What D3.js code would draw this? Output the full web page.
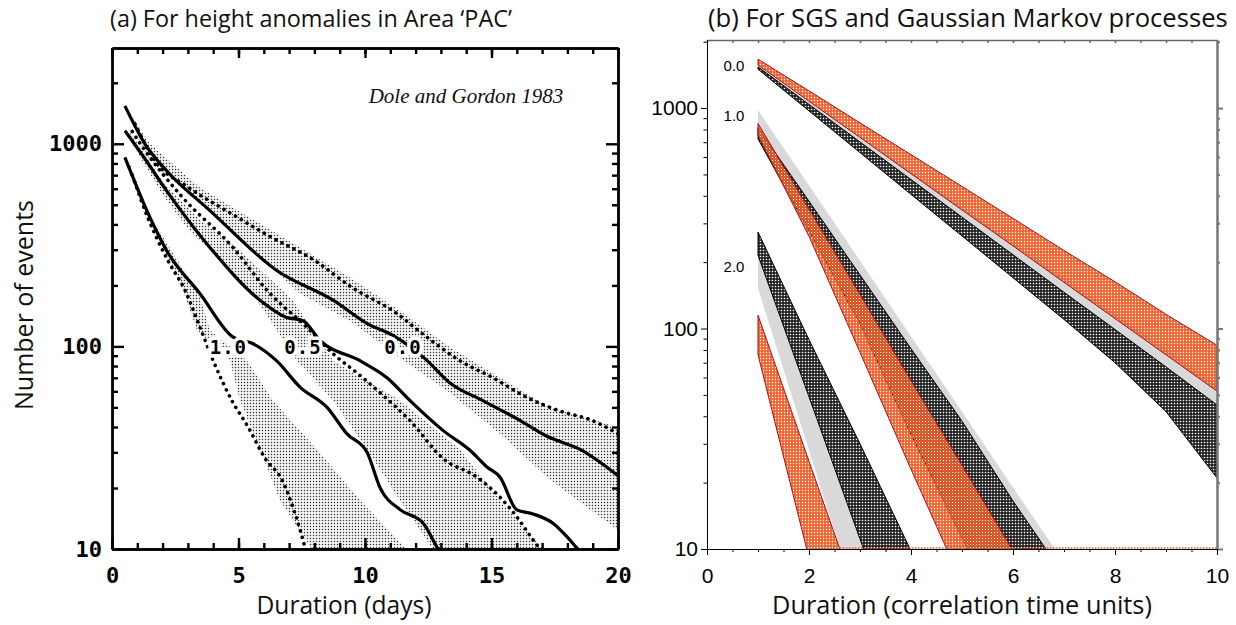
<!DOCTYPE html>
<html>
<head>
<meta charset="utf-8">
<title>Number of events against duration</title>
<script src="https://cdn.jsdelivr.net/npm/d3@7"></script>
<style>
  body { margin: 0; background: #fff; }
  .cal { font-family: "Open Sans", sans-serif; fill: #111; }
</style>
</head>
<body>
<svg id="fig" width="1236" height="625"></svg>
<script>
// ---------- panel (a): Dole and Gordon 1983, [duration (days), number of events] ----------
const solid00 = [[0.51,1538],[1.3,1000],[2.16,736],[3.87,468],[6.51,237],[8.74,169],[10.07,130],[11.12,113],[12.37,87],[13.36,66],[14.66,54],[16.0,44],[17.19,36],[18.5,31],[20.0,23]];
const solid05 = [[0.51,1160],[1.2,880],[2.16,586],[3.87,308],[5.85,169],[6.9,139],[7.55,134],[8.22,107],[9.8,85],[10.87,70],[11.78,54],[13.08,38.5],[14.15,30.7],[14.82,25.4],[15.34,22.6],[16.0,15.6],[16.64,14.9],[17.43,13.4],[17.98,11.5],[18.38,10.1],[18.6,9.5]];
const solid10 = [[0.51,857],[1.5,433],[2.16,297],[3.48,182],[4.79,111],[5.58,103],[6.5,85],[7.43,63],[8.5,50],[9.29,37],[10.08,30],[10.6,20],[11.4,15.6],[12.3,13.4],[12.85,10.2],[13.0,9.5]];
const dotUpper = [[0.9,1259],[1.7,824],[3.02,610],[4.73,451],[6.31,345],[8.02,265],[9.47,196],[11.1,150],[12.45,111],[13.75,85],[15.06,70],[16.4,56],[17.7,48],[19.0,43],[20.0,37]];
const dotMiddle = [[0.8,1150],[1.23,955],[2.81,540],[4.78,308],[6.13,189],[7.71,124],[8.74,92],[9.8,72],[10.6,59],[11.78,43],[13.08,28],[14.43,22.6],[15.34,18],[16.0,14.4],[16.64,11.1],[16.9,10],[17.0,9.5]];
const dotLower = [[0.8,700],[1.42,431],[2.21,265],[2.89,189],[3.48,124],[4.0,85],[4.74,54],[5.38,40],[6.05,28],[6.72,21.9],[7.23,15],[7.63,10.2],[7.7,9.5]];

// stippled ranges
const stip00Days = [0.6, 1.5, 3.48, 5.45, 7.43, 9.4, 11.38, 13.36, 15.34, 17.3, 20.0];
const stip00Hi   = [1479, 1000, 607, 432, 308, 219, 150, 99, 70, 50, 40];
const stip00Lo   = [1413, 824, 506, 308, 182, 134, 88, 59, 37, 22, 12.4];
const stip05Hi = [[0.7,1150],[2.0,650],[3.5,420],[5.06,297],[7.15,169],[8.74,85],[11.38,54],[13.75,31],[15.34,17.4],[17.2,9.5]];
const stip05Lo = [[0.7,1050],[2.0,560],[3.0,380],[3.87,297],[5.73,169],[7.31,85],[8.74,54],[10.08,31],[11.38,17.4],[12.8,9.5]];
const stip10Hi = [[0.7,800],[1.5,440],[3.48,175],[3.87,120],[5.34,85],[6.36,54],[8.1,31],[9.8,17.4],[11.8,9.5]];
const stip10Lo = [[0.7,760],[1.5,400],[2.81,189],[3.36,120],[4.66,85],[5.06,54],[5.85,31],[6.64,17.4],[8.0,9.5]];

const curveLabels = [{t:"1.0", d:4.6, v:100}, {t:"0.5", d:7.55, v:100}, {t:"0.0", d:11.5, v:100}];
const yTicksA = [10, 100, 1000];
const xTicksA = [0, 5, 10, 15, 20];

// ---------- panel (b): SGS (orange), Gaussian Markov (black), grey range ----------
const durations = [1, 2, 3, 4, 5, 6, 7, 8, 9, 10];
// threshold 0.0
const sgs00Hi  = [1667, 1197, 857, 615, 441, 316, 226, 163, 116, 84];
const sgs00Lo  = [1567, 1074, 736, 504, 345, 237, 162, 111, 76, 52];
const gm00Hi   = [1538, 1039, 702, 474, 320, 216, 146, 99, 67, 45];
const gm00Lo   = [1500, 971, 628, 406, 263, 170, 110, 70, 42, 21];
const grey00Hi = [1549, 1072, 741, 513, 355, 245, 170, 117, 81, 56];
const grey00Lo = [1531, 1026, 687, 461, 308, 207, 139, 93, 62, 42];
// threshold 1.0
const sgs10Hi  = [851, 348, 143, 58, 24, 9.8];
const sgs10Lo  = [752, 262, 78, 23, 7];
const gm10Hi   = [813, 378, 175, 81, 38, 16.5, 7.6];
const gm10Lo   = [724, 277, 105, 33, 11.2, 4];
const grey10Hi = [980, 446, 203, 92, 42, 19, 8.7];
const grey10Lo = [794, 355, 158, 74, 35, 16, 7.6];
// threshold 2.0
const sgs20Hi  = [115, 25, 5.5];
const sgs20Lo  = [76, 9.1];
const gm20Hi   = [274, 89, 30, 9.8];
const gm20Lo   = [215, 49, 11.1, 2.5];
const grey20Hi = [219, 50, 11.5, 2.6];
const grey20Lo = [152, 28, 5.2];

const bandLabels = [{t:"0.0", v:1560}, {t:"1.0", v:920}, {t:"2.0", v:190}];
const yTicksB = [10, 100, 1000];
const xTicksB = [0, 2, 4, 6, 8, 10];

// ---------------------------------------------------------------
const svg = d3.select("#fig");
const defs = svg.append("defs");

const xA = d3.scaleLinear().domain([0, 20]).range([112, 618]);
const yA = d3.scaleLog().domain([10, 2970]).range([549, 48]);
const xB = d3.scaleLinear().domain([0, 10]).range([707, 1217]);
const yB = d3.scaleLog().domain([10, 2036]).range([549, 40]);

function clip(id, x, y) {
  defs.append("clipPath").attr("id", id).append("rect")
    .attr("x", x.range()[0]).attr("y", y.range()[1])
    .attr("width", x.range()[1] - x.range()[0])
    .attr("height", y.range()[0] - y.range()[1]);
}
clip("clipA", xA, yA);
clip("clipB", xB, yB);

// fill patterns
const stip = defs.append("pattern").attr("id", "stipple")
  .attr("patternUnits", "userSpaceOnUse").attr("width", 3).attr("height", 3);
stip.append("rect").attr("x", 0.8).attr("y", 0.8).attr("width", 1.4).attr("height", 1.4).attr("fill", "#333");

const pOr = defs.append("pattern").attr("id", "hatchOrange")
  .attr("patternUnits", "userSpaceOnUse").attr("width", 3).attr("height", 3);
pOr.append("path").attr("d", "M0,0H3V3H0Z M0.8,0.8H2.2V2.2H0.8Z")
  .attr("fill-rule", "evenodd").attr("fill", "#f05a22");

const pBk = defs.append("pattern").attr("id", "hatchBlack")
  .attr("patternUnits", "userSpaceOnUse").attr("width", 3).attr("height", 3);
pBk.append("rect").attr("width", 3).attr("height", 3).attr("fill", "#fff");
pBk.append("path").attr("d", "M0,0H3V3H0Z M0.7,0.7H2.3V2.3H0.7Z")
  .attr("fill-rule", "evenodd").attr("fill", "#111");

// ================= panel (a) =================
const gA = svg.append("g");
const plotA = gA.append("g").attr("clip-path", "url(#clipA)");
const polyA = d3.line().x(d => xA(d[0])).y(d => yA(d[1])).curve(d3.curveLinearClosed);
const lineA = d3.line().x(d => xA(d[0])).y(d => yA(d[1])).curve(d3.curveMonotoneX);

const stip00 = stip00Days.map((d, i) => [d, stip00Hi[i]])
  .concat(stip00Days.map((d, i) => [d, stip00Lo[i]]).reverse());
[stip00, stip05Hi.concat(stip05Lo.slice().reverse()), stip10Hi.concat(stip10Lo.slice().reverse())]
  .forEach(p => plotA.append("path").attr("d", polyA(p)).attr("fill", "url(#stipple)"));

[dotUpper, dotMiddle, dotLower].forEach(s =>
  plotA.append("path").attr("d", lineA(s)).attr("fill", "none")
    .attr("stroke", "#000").attr("stroke-width", 3.6)
    .attr("stroke-linecap", "round").attr("stroke-dasharray", "0.1 6.6"));

[solid00, solid05, solid10].forEach(s =>
  plotA.append("path").attr("d", lineA(s)).attr("fill", "none")
    .attr("stroke", "#000").attr("stroke-width", 3.2).attr("stroke-linejoin", "round"));

gA.selectAll("text.clab").data(curveLabels).join("text")
  .attr("x", d => xA(d.d)).attr("y", d => yA(d.v) + 8)
  .attr("text-anchor", "middle")
  .attr("font-family", "DejaVu Sans Mono, monospace").attr("font-weight", "bold")
  .attr("font-size", 19).attr("letter-spacing", 1)
  .attr("stroke", "#fff").attr("stroke-width", 7).attr("paint-order", "stroke")
  .attr("fill", "#000").text(d => d.t);

gA.append("text").attr("x", 466).attr("y", 103).attr("text-anchor", "middle")
  .attr("font-family", "Liberation Serif, serif").attr("font-style", "italic")
  .attr("font-size", 21).attr("fill", "#111").text("Dole and Gordon 1983");

// axes of (a): ticks point inwards
const minorYA = yA.ticks().filter(v => !yTicksA.includes(v));
const daysA = d3.range(0, 21);
function scanAxis(g) {
  g.selectAll(".domain, .tick line").attr("stroke", "#000").attr("stroke-width", 2.4);
  g.attr("font-family", "DejaVu Sans Mono, monospace").attr("font-weight", "bold")
   .attr("font-size", 22).attr("fill", "#000");
}
const x0A = xA.range()[0], x1A = xA.range()[1], y0A = yA.range()[0], y1A = yA.range()[1];
gA.append("g").attr("transform", `translate(${x0A},0)`)
  .call(d3.axisLeft(yA).tickValues(minorYA).tickSize(-6).tickSizeOuter(0).tickFormat("")).call(scanAxis);
gA.append("g").attr("transform", `translate(${x0A},0)`)
  .call(d3.axisLeft(yA).tickValues(yTicksA).tickSize(-12).tickPadding(10).tickSizeOuter(0).tickFormat(d3.format("d"))).call(scanAxis);
gA.append("g").attr("transform", `translate(${x1A},0)`)
  .call(d3.axisRight(yA).tickValues(minorYA).tickSize(-6).tickSizeOuter(0).tickFormat("")).call(scanAxis);
gA.append("g").attr("transform", `translate(${x1A},0)`)
  .call(d3.axisRight(yA).tickValues(yTicksA).tickSize(-12).tickSizeOuter(0).tickFormat("")).call(scanAxis);
gA.append("g").attr("transform", `translate(0,${y0A})`)
  .call(d3.axisBottom(xA).tickValues(daysA).tickSize(-6).tickSizeOuter(0).tickFormat("")).call(scanAxis);
gA.append("g").attr("transform", `translate(0,${y0A})`)
  .call(d3.axisBottom(xA).tickValues(xTicksA).tickSize(-11).tickPadding(18).tickSizeOuter(0).tickFormat(d3.format("d"))).call(scanAxis);
gA.append("g").attr("transform", `translate(0,${y1A})`)
  .call(d3.axisTop(xA).tickValues(daysA).tickSize(-6).tickSizeOuter(0).tickFormat("")).call(scanAxis);
gA.append("g").attr("transform", `translate(0,${y1A})`)
  .call(d3.axisTop(xA).tickValues(xTicksA).tickSize(-10).tickSizeOuter(0).tickFormat("")).call(scanAxis);

// ================= panel (b) =================
const gB = svg.append("g");
const plotB = gB.append("g").attr("clip-path", "url(#clipB)");
const polyB = d3.line().x(d => xB(d[0])).y(d => yB(d[1])).curve(d3.curveLinearClosed);

function band(hi, lo, fill, stroke) {
  const pts = hi.map((v, i) => [durations[i], v])
    .concat(lo.map((v, i) => [durations[i], v]).reverse());
  plotB.append("path").attr("d", polyB(pts)).attr("fill", fill)
    .attr("stroke", stroke || "none").attr("stroke-width", 1).attr("stroke-linejoin", "round");
}
const GREY = "#d9d9d9", RED = "#a8101a";
band(grey00Hi, grey00Lo, GREY);
band(grey10Hi, grey10Lo, GREY);
band(grey20Hi, grey20Lo, GREY);
band(gm00Hi, gm00Lo, "url(#hatchBlack)", "#000");
band(gm10Hi, gm10Lo, "url(#hatchBlack)", "#000");
band(gm20Hi, gm20Lo, "url(#hatchBlack)", "#000");
band(sgs00Hi, sgs00Lo, "url(#hatchOrange)", RED);
band(sgs10Hi, sgs10Lo, "url(#hatchOrange)", RED);
band(sgs20Hi, sgs20Lo, "url(#hatchOrange)", RED);

// where a reading series falls through the floor of 10 events
function crossTen(vals) {
  for (let i = 1; i < vals.length; i++) if (vals[i] < 10) {
    const a = Math.log10(vals[i - 1]) - 1, b = Math.log10(vals[i]) - 1;
    return durations[i - 1] + a / (a - b);
  }
  return durations[vals.length - 1];
}
plotB.append("line")
  .attr("x1", xB(crossTen(sgs20Hi))).attr("x2", xB.range()[1])
  .attr("y1", yB(10) - 1).attr("y2", yB(10) - 1)
  .attr("stroke", "#f05a22").attr("stroke-width", 1.6).attr("stroke-dasharray", "1.5 1.5");

gB.selectAll("text.blab").data(bandLabels).join("text")
  .attr("x", 734).attr("y", d => yB(d.v)).attr("dy", "0.35em").attr("text-anchor", "middle")
  .attr("font-family", "Liberation Sans, Arial, sans-serif").attr("font-size", 15)
  .attr("fill", "#000").text(d => d.t);

// axes of (b)
const minorYB = yB.ticks().filter(v => !yTicksB.includes(v));
const halfB = d3.range(0, 10.01, 0.5);
function gmtAxis(g, col, w) {
  g.selectAll(".domain, .tick line").attr("stroke", col).attr("stroke-width", w);
  g.attr("font-family", "Liberation Sans, Arial, sans-serif").attr("font-size", 21).attr("fill", "#000");
}
const x0B = xB.range()[0], x1B = xB.range()[1], y0B = yB.range()[0], y1B = yB.range()[1];
gB.append("g").attr("transform", `translate(0,${y1B})`)
  .call(d3.axisTop(xB).tickValues(halfB).tickSize(-3).tickSizeOuter(0).tickFormat(""))
  .call(g => gmtAxis(g, "#666", 1.5));
gB.append("g").attr("transform", `translate(${x1B},0)`)
  .call(d3.axisRight(yB).tickValues(minorYB).tickSize(3).tickSizeOuter(0).tickFormat(""))
  .call(g => gmtAxis(g, "#777", 2));
gB.append("g").attr("transform", `translate(${x1B},0)`)
  .call(d3.axisRight(yB).tickValues(yTicksB).tickSize(6).tickSizeOuter(0).tickFormat(""))
  .call(g => gmtAxis(g, "#777", 2));
gB.append("g").attr("transform", `translate(${x0B},0)`)
  .call(d3.axisLeft(yB).tickValues(minorYB).tickSize(3.5).tickSizeOuter(0).tickFormat(""))
  .call(g => gmtAxis(g, "#000", 1));
gB.append("g").attr("transform", `translate(${x0B},0)`)
  .call(d3.axisLeft(yB).tickValues(yTicksB).tickSize(6).tickPadding(3).tickSizeOuter(0).tickFormat(d3.format("d")))
  .call(g => gmtAxis(g, "#000", 1));
gB.append("g").attr("transform", `translate(0,${y0B})`)
  .call(d3.axisBottom(xB).tickValues(halfB).tickSize(3).tickSizeOuter(0).tickFormat(""))
  .call(g => gmtAxis(g, "#000", 1));
gB.append("g").attr("transform", `translate(0,${y0B})`)
  .call(d3.axisBottom(xB).tickValues(xTicksB).tickSize(6).tickPadding(13).tickSizeOuter(0).tickFormat(d3.format("d")))
  .call(g => gmtAxis(g, "#000", 1));

// ================= titles =================
function fit(sel, width) {
  const len = sel.node().getComputedTextLength();
  sel.attr("font-size", parseFloat(sel.attr("font-size")) * width / len);
}
fit(svg.append("text").attr("class", "cal").attr("x", 110).attr("y", 27).attr("font-size", 22)
  .text("(a) For height anomalies in Area \u2018PAC\u2019"), 402);
fit(svg.append("text").attr("class", "cal").attr("x", 708).attr("y", 27).attr("font-size", 22)
  .text("(b) For SGS and Gaussian Markov processes"), 520);
fit(svg.append("text").attr("class", "cal").attr("text-anchor", "middle")
  .attr("transform", "translate(33,305) rotate(-90)").attr("font-size", 22)
  .text("Number of events"), 210);
fit(svg.append("text").attr("class", "cal").attr("text-anchor", "middle")
  .attr("x", 344).attr("y", 614).attr("font-size", 22).text("Duration (days)"), 175);
fit(svg.append("text").attr("class", "cal").attr("text-anchor", "middle")
  .attr("x", 962).attr("y", 614).attr("font-size", 22).text("Duration (correlation time units)"), 380);
</script>
</body>
</html>
